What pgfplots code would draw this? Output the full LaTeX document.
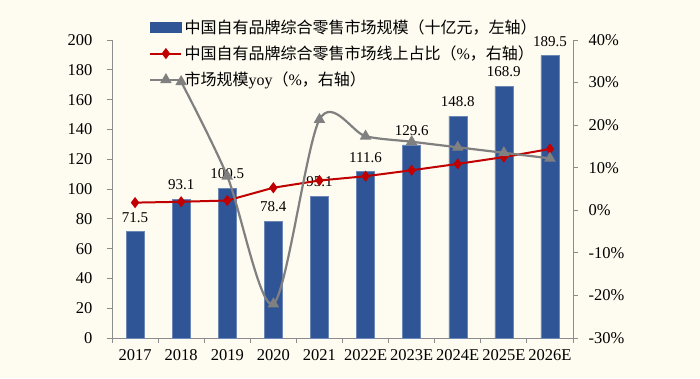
\documentclass[border=0pt]{standalone}
\usepackage{pgfplots}
\pgfplotsset{compat=1.18}
\usepackage{fontspec}
\setmainfont{Liberation Serif}
\newfontfamily\cjk{Noto Sans CJK SC}
\definecolor{bg}{HTML}{FEFBF0}
\definecolor{barblue}{HTML}{2F5597}
\definecolor{lred}{HTML}{C00000}
\definecolor{lgray}{HTML}{808080}
\definecolor{axgray}{HTML}{8C8C8C}
\begin{document}
\begin{tikzpicture}
\fill[bg] (0,0) rectangle (700pt,378pt);
\begin{axis}[
  at={(112pt,40pt)}, anchor=south west, scale only axis,
  width=461pt, height=298pt,
  xmin=-0.5, xmax=9.5, ymin=0, ymax=200,
  ytick={0,20,...,200},
  xtick={0,...,9},
  xticklabels={2017,2018,2019,2020,2021,2022E,2023E,2024E,2025E,2026E},
  minor xtick={-0.5,0.5,...,9.5},
  axis x line*=bottom, axis y line*=left,
  axis line style={axgray, line width=1pt, -},
  tick style={axgray, line width=1pt},
  major x tick style={draw=none},
  tick align=outside, major tick length=5pt, minor tick length=5pt,
  /pgf/number format/assume math mode=true,
  ticklabel style={font=\fontsize{16.5}{20}\selectfont, text=black},
  yticklabel style={xshift=-11pt},
  xticklabel style={yshift=-3pt},
  nodes near coords,
  nodes near coords style={font=\fontsize{15}{18}\selectfont, text=black, inner sep=2pt, yshift=7pt,
    /pgf/number format/.cd, fixed, fixed zerofill, precision=1, assume math mode=true},
]
\addplot[ybar, bar width=18pt, fill=barblue, draw=barblue!70!white, line width=0.5pt]
coordinates {(0,71.5) (1,93.1) (2,100.5) (3,78.4) (4,95.1) (5,111.6) (6,129.6) (7,148.8) (8,168.9) (9,189.5)};
\end{axis}
\begin{axis}[
  at={(112pt,40pt)}, anchor=south west, scale only axis,
  width=461pt, height=298pt,
  xmin=-0.5, xmax=9.5, ymin=-30, ymax=40,
  ytick={-30,-20,...,40},
  yticklabel={\pgfmathprintnumber{\tick}\%},
  axis x line=none, axis y line*=right,
  axis line style={axgray, line width=1pt, -},
  tick style={axgray, line width=1pt},
  tick align=outside, major tick length=5pt,
  /pgf/number format/assume math mode=true,
  ticklabel style={font=\fontsize{16.5}{20}\selectfont, text=black},
  yticklabel style={xshift=7pt},
  legend style={at={(0.074,1.082)}, anchor=north west, draw=none, fill=none,
    font=\fontsize{16}{19}\selectfont, row sep=7pt,
    nodes={inner sep=2pt}},
  legend cell align=left,
  legend image code/.code={\draw[mark repeat=2,mark phase=2,#1] plot coordinates {(0pt,0pt) (15.5pt,0pt) (31pt,0pt)};},
]
\addlegendimage{legend image code/.code={\fill[barblue] (0pt,-5pt) rectangle (31pt,5pt);}}
\addlegendentry{\cjk 中国自有品牌综合零售市场规模（十亿元，左轴）}
\addplot[lred, line width=2pt, mark=diamond*, mark size=4pt]
coordinates {(0,1.8) (1,2.0) (2,2.3) (3,5.3) (4,7.0) (5,8.0) (6,9.4) (7,10.9) (8,12.5) (9,14.4)};
\addlegendentry{\cjk 中国自有品牌综合零售市场线上占比（{\rmfamily\%}，右轴）}
\addplot[lgray, line width=2.2pt, mark=triangle*, mark size=4.5pt, smooth, tension=0.5]
coordinates {(1,30.2) (2,8.0) (3,-22.0) (4,21.3) (5,17.4) (6,16.1) (7,14.8) (8,13.5) (9,12.2)};
\addlegendentry{{\cjk 市场规模}yoy{\cjk （}\%{\cjk ，右轴）}}
\end{axis}
\end{tikzpicture}
\end{document}
